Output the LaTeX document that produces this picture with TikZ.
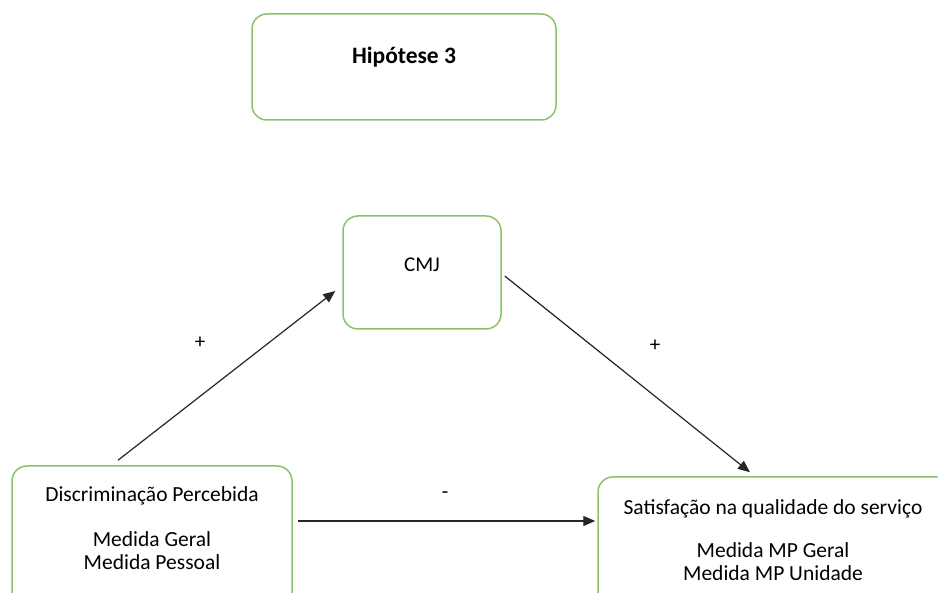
\documentclass[tikz,border=0pt]{standalone}
\usepackage{fontspec}
\setmainfont{Carlito}
\usepackage{tikz}
\usetikzlibrary{arrows.meta}
\definecolor{boxgreen}{RGB}{137,196,106}
\tikzstyle{frame} = [draw=boxgreen, line width=1.5pt, rounded corners=15pt]
\tikzstyle{txt} = [font={\fontsize{21.5}{23}\selectfont}, align=center, inner sep=0pt]
\tikzstyle{sign} = [font={\fontsize{21}{23}\selectfont}, inner sep=0pt]
\tikzstyle{link} = [-{Triangle[length=12pt,width=10pt]}, line width=1.2pt, black!85]

\begin{document}
\begin{tikzpicture}[x=1pt,y=-1pt]
  \useasboundingbox (0,0) rectangle (938,593);
  \clip (0,0) rectangle (938,593);
  \node[frame, minimum width=304pt, minimum height=106pt](hip) at (404,67){};
  \node[frame, minimum width=158pt, minimum height=113pt](cmj) at (422,272.5){};
  \node[frame, minimum width=280pt, minimum height=200pt](disc) at (152,566){};
  \node[frame, minimum width=362pt, minimum height=200pt](sat) at (779,577){};
  \node[txt, font={\fontsize{23.5}{25}\selectfont\bfseries}](hiptxt) at (404,57){Hipótese 3};
  \node[txt, font={\fontsize{21}{23}\selectfont}](cmjtxt) at (422,265){CMJ};
  \node[txt, anchor=north](disctxt) at (152,486){Discriminação Percebida\\[22pt]Medida Geral\\Medida Pessoal};
  \node[txt, anchor=north](sattxt) at (773,499.5){Satisfação na qualidade do serviço\\[20pt]Medida MP Geral\\Medida MP Unidade};
  \node[sign](p1) at (200,343){+};
  \node[sign](p2) at (655,346){+};
  \node[sign](m1) at (445,495){-};
  \draw[link]([xshift=-34pt,yshift=5pt]disc.north)--([xshift=-7pt,yshift=-18.5pt]cmj.west);
  \draw[link]([xshift=3pt,yshift=-3.5pt]cmj.east)--([xshift=-29pt,yshift=4pt]sat.north);
  \draw[link]([shift={(5pt,45pt)}]disc.east)--([shift={(-2pt,56pt)}]sat.west);
\end{tikzpicture}
\end{document}
